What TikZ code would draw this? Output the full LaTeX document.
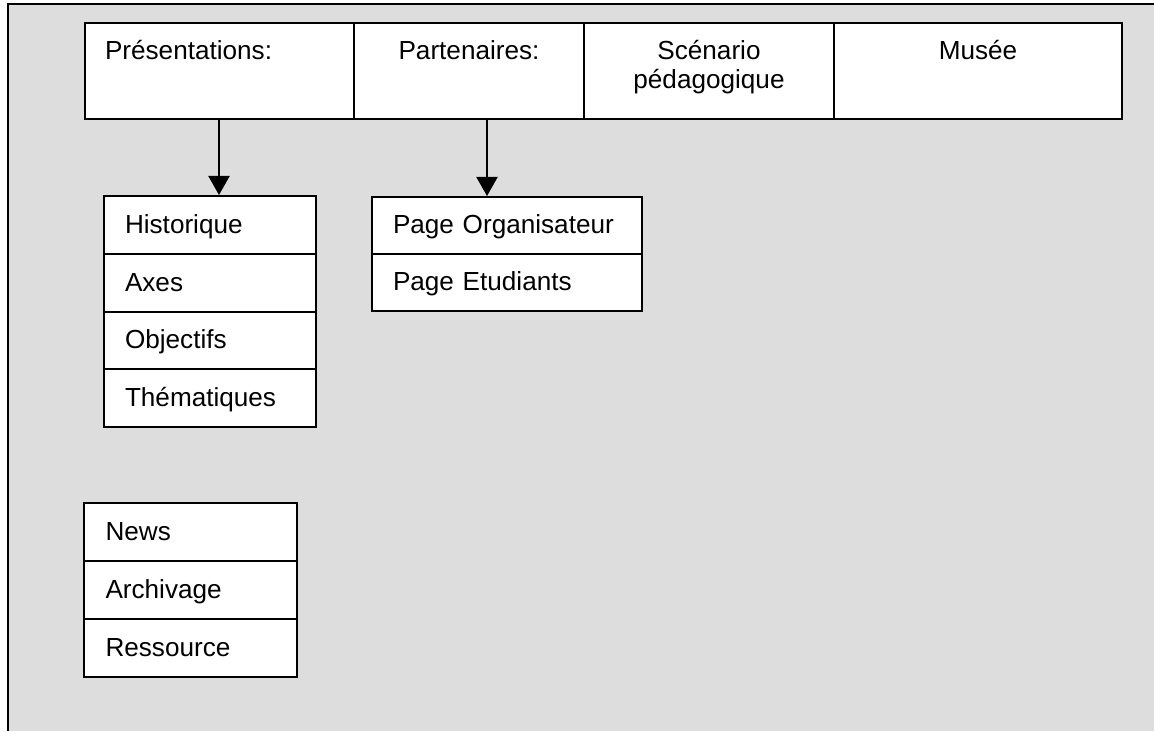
\documentclass[tikz,border=0pt]{standalone}
\usepackage{fontspec}
\setmainfont{Liberation Sans}
\usetikzlibrary{arrows.meta}
\definecolor{panelgray}{RGB}{221,221,221}

\begin{document}
\begin{tikzpicture}[
  x=0.75pt, y=-0.75pt,
  every node/.style={font=\fontsize{19.6}{21.75}\selectfont, inner ysep=0pt},
  framestroke/.style={line width=1.5pt, line cap=rect},
  % top menu bar cells: text sits near the top edge
  menucell/.style={draw, line width=1.5pt, fill=white,
    minimum height=72pt, text height=14.25pt, text depth=30.75pt,
    inner xsep=15pt, text width=#1},
  % rows of the sub-menu lists
  rowcell/.style={draw, line width=1.5pt, fill=white, align=left,
    inner xsep=15.75pt, text width=#1, text height=16.5pt, text depth=3.75pt},
  arr/.style={line width=1.5pt, -{Triangle[width=15.75pt,length=14.25pt]}}
]
\useasboundingbox (0,0) rectangle (1154,731);

% grey panel with its left and top rules
\fill[panelgray] (8,4) rectangle (1154,731);
\draw[framestroke] (8,731) -- (8,4) -- (1154,4);

% top menu bar
\node[menucell=171.75pt, align=left,   minimum width=201.75pt] (p1) at (219.5,71) {Présentations:};
\node[menucell=142.5pt,  align=center, minimum width=172.5pt]  (p2) at (469,71)   {Partenaires:};
\node[menucell=157.5pt,  align=center, minimum width=187.5pt]  (p3) at (709,71)   {Scénario\\pédagogique};
\node[menucell=186pt,    align=center, minimum width=216pt]    (p4) at (978,71)   {Musée};

% Présentations sub-menu
\begin{scope}[every node/.append style={rowcell=127.5pt, minimum width=159pt, minimum height=43.3125pt}]
  \node (h1) at (210,224.875) {Historique};
  \node (h2) at (210,282.625) {Axes};
  \node (h3) at (210,340.375) {Objectifs};
  \node (h4) at (210,398.125) {Thématiques};
\end{scope}

% Partenaires sub-menu
\begin{scope}[every node/.append style={rowcell=171pt, minimum width=201pt, minimum height=42.75pt}]
  \node (o1) at (507,225.5) {Page Organisateur};
  \node (o2) at (507,282.5) {Page Etudiants};
\end{scope}

% stand-alone list
\begin{scope}[every node/.append style={rowcell=127.5pt, minimum width=159.75pt, minimum height=43.5pt}]
  \node (n1) at (190.5,532) {News};
  \node (n2) at (190.5,590) {Archivage};
  \node (n3) at (190.5,648) {Ressource};
\end{scope}

% links from the menu bar to the sub-menus
\draw[arr] ([xshift=6.75pt]h1.north |- p1.south) -- ([xshift=6.75pt]h1.north);
\draw[arr] ([xshift=-15pt]o1.north |- p2.south) -- ([xshift=-15pt]o1.north);
\end{tikzpicture}
\end{document}
